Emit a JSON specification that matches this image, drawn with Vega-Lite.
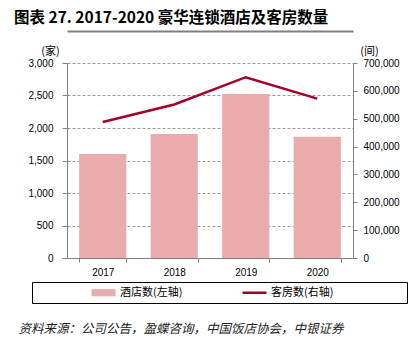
{
  "$schema": "https://vega.github.io/schema/vega-lite/v6.json",
  "width": 286,
  "height": 195,
  "autosize": "none",
  "padding": {"left": 67, "top": 63, "right": 61, "bottom": 89},
  "background": "white",
  "title": {
    "text": "图表 27. 2017-2020 豪华连锁酒店及客房数量",
    "anchor": "start",
    "frame": "group",
    "dx": -53,
    "dy": 7,
    "offset": 0,
    "baseline": "alphabetic",
    "fontSize": 15.5,
    "font": "Noto Sans CJK SC",
    "fontWeight": "bold",
    "color": "#000000"
  },
  "data": {
    "values": [
      {"year": "2017", "hotels": 1600, "rooms": 488000},
      {"year": "2018", "hotels": 1908, "rooms": 551000},
      {"year": "2019", "hotels": 2523, "rooms": 649000},
      {"year": "2020", "hotels": 1866, "rooms": 572000}
    ]
  },
  "config": {
    "view": {"stroke": null},
    "axis": {
      "labelFont": "Liberation Sans",
      "labelFontSize": 10,
      "labelColor": "#000000",
      "domainColor": "#808080",
      "tickColor": "#808080",
      "titleFont": "Noto Sans CJK SC",
      "titleFontWeight": "normal",
      "titleColor": "#000000"
    }
  },
  "layer": [
    {
      "mark": {"type": "bar"},
      "encoding": {
        "x": {
          "field": "year",
          "type": "ordinal",
          "scale": {"paddingInner": 0.34, "paddingOuter": 0.17},
          "axis": {
            "title": "资料来源：公司公告，盈蝶咨询，中国饭店协会，中银证券",
            "titleX": -49,
            "titleY": 70,
            "titleAlign": "left",
            "titleAnchor": null,
            "titleBaseline": "middle",
            "titleFontStyle": "italic",
            "titleFontSize": 12.5,
            "titleColor": "#222222",
            "labelAngle": 0,
            "labelPadding": 5,
            "tickBand": "extent",
            "tickSize": 4,
            "grid": false
          }
        },
        "y": {
          "field": "hotels",
          "type": "quantitative",
          "scale": {"domain": [0, 3000]},
          "axis": {
            "title": "(家)",
            "titleAngle": 0,
            "titleX": -17,
            "titleY": -12,
            "titleAlign": "center",
            "titleBaseline": "middle",
            "titleFontSize": 11,
            "values": [0, 500, 1000, 1500, 2000, 2500, 3000],
            "format": ",.0f",
            "tickSize": 5,
            "labelPadding": 9,
            "grid": true,
            "gridDash": [3, 2],
            "gridColor": "#999999"
          }
        },
        "color": {
          "datum": "酒店数(左轴)",
          "scale": {"domain": ["酒店数(左轴)", "客房数(右轴)"], "range": ["#E9ABAB", "#A50026"]},
          "legend": {
            "orient": "none",
            "legendX": -35,
            "legendY": 219,
            "direction": "horizontal",
            "columns": 2,
            "title": " ",
            "titleOrient": "right",
            "titlePadding": 69,
            "strokeColor": "#000000",
            "padding": 5,
            "symbolOffset": 61,
            "labelOffset": 11,
            "columnPadding": 5,
            "labelFont": "Noto Sans CJK SC",
            "labelFontSize": 11,
            "labelColor": "#000000",
            "symbolSize": 576,
            "encode": {
              "symbols": {
                "update": {
                  "shape": {"signal": "datum.value === '酒店数(左轴)' ? 'M-1,-0.3H1V0.3H-1Z' : 'M-1,0H1'"},
                  "fill": {"signal": "datum.value === '酒店数(左轴)' ? '#E9ABAB' : 'transparent'"},
                  "stroke": {"signal": "datum.value === '酒店数(左轴)' ? 'transparent' : '#A50026'"},
                  "strokeWidth": {"signal": "datum.value === '酒店数(左轴)' ? 0 : 2.5"},
                  "opacity": {"value": 1}
                }
              }
            }
          }
        }
      }
    },
    {
      "mark": {"type": "line", "strokeWidth": 2.5},
      "encoding": {
        "x": {
          "field": "year",
          "type": "ordinal",
          "axis": {
            "orient": "top",
            "offset": 32,
            "title": null,
            "labels": false,
            "ticks": false,
            "grid": false,
            "domainColor": "#808080",
            "domainWidth": 2
          }
        },
        "y": {
          "field": "rooms",
          "type": "quantitative",
          "scale": {"domain": [0, 700000]},
          "axis": {
            "orient": "right",
            "title": "(间)",
            "titleAngle": 0,
            "titleX": 16,
            "titleY": -12,
            "titleAlign": "center",
            "titleBaseline": "middle",
            "titleFontSize": 11,
            "values": [0, 100000, 200000, 300000, 400000, 500000, 600000, 700000],
            "format": ",.0f",
            "tickSize": 4,
            "labelPadding": 6,
            "grid": false
          }
        },
        "color": {"datum": "客房数(右轴)"}
      }
    }
  ],
  "resolve": {"scale": {"y": "independent"}, "axis": {"x": "independent"}}
}
